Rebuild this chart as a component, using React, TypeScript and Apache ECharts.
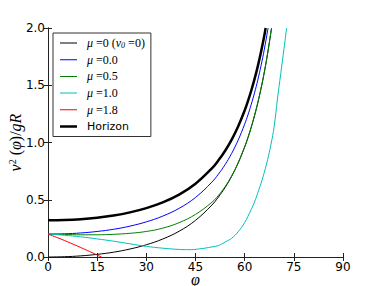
import React, { useEffect, useRef } from "react";
import * as echarts from "echarts";

// ---- data ----
const thinX = [0, 5, 10, 15, 20, 25, 30, 35, 40, 45, 50, 52, 54, 56, 58, 60, 61, 62, 63, 64, 65, 66, 67, 68, 68.2];
const thinY = [0, 0.0024, 0.0099, 0.023, 0.042, 0.0696, 0.107, 0.157, 0.225, 0.32, 0.454, 0.524, 0.606, 0.703, 0.82, 0.96, 1.041, 1.132, 1.233, 1.345, 1.472, 1.614, 1.776, 1.96, 2.0];

const blueX = [0, 5, 10, 15, 20, 25, 30, 35, 40, 45, 50, 52, 54, 56, 58, 60, 61, 62, 63, 64, 65, 66, 67, 67.15];
const blueY = [0.2, 0.2024, 0.21, 0.223, 0.242, 0.2696, 0.307, 0.357, 0.425, 0.52, 0.654, 0.724, 0.806, 0.903, 1.02, 1.16, 1.241, 1.332, 1.433, 1.545, 1.672, 1.814, 1.976, 2.0];

const greenX = [0, 5, 10, 15, 20, 25, 30, 35, 40, 45, 50, 52, 54, 56, 58, 60, 61, 62, 63, 64, 65, 66, 67, 68, 68.2];
const greenY = [0.2, 0.197, 0.194, 0.194, 0.198, 0.207, 0.223, 0.252, 0.3, 0.372, 0.478, 0.538, 0.613, 0.707, 0.823, 0.963, 1.044, 1.135, 1.236, 1.348, 1.475, 1.617, 1.779, 1.963, 2.0];

const cyanX = [0, 5, 10, 15, 20, 25, 30, 35, 40, 43, 46, 48, 50, 52, 54, 56, 58, 60, 61, 62, 63, 64, 65, 66, 67, 68, 69, 70, 71, 72, 72.8];
const cyanY = [0.2, 0.19, 0.176, 0.158, 0.138, 0.115, 0.093, 0.077, 0.066, 0.064, 0.07, 0.078, 0.088, 0.1, 0.13, 0.163, 0.22, 0.3, 0.355, 0.415, 0.48, 0.56, 0.645, 0.74, 0.85, 0.98, 1.14, 1.38, 1.6, 1.82, 2.0];

const redX = [0, 4, 8, 12, 16.3];
const redY = [0.2, 0.156, 0.108, 0.057, 0];

const horizonX = [0, 5, 10, 15, 20, 25, 30, 35, 40, 45, 50, 52, 54, 56, 58, 60, 61, 62, 63, 64, 65, 66, 66.4];
const horizonY = [0.32, 0.3225, 0.33, 0.343, 0.362, 0.3896, 0.427, 0.477, 0.545, 0.64, 0.774, 0.844, 0.926, 1.023, 1.14, 1.28, 1.362, 1.452, 1.553, 1.665, 1.792, 1.934, 2.0];

const xTicks = { min: 0, max: 90, interval: 15 };
const yTicks = { min: 0, max: 2, interval: 0.5 };

const zip = (xs: number[], ys: number[]) => xs.map((x, i) => [x, ys[i]]);

const legendLabels: Record<string, string> = {
  s0: "{i|μ}{n| =0 (}{i|v}{sub|0}{n| =0)}",
  s1: "{i|μ}{n| =0.0}",
  s2: "{i|μ}{n| =0.5}",
  s3: "{i|μ}{n| =1.0}",
  s4: "{i|μ}{n| =1.8}",
  s5: "{h|Horizon}",
};

// legend icons: a line inside a 17x12 box (a hair-thin sliver keeps the box height)
const thinIcon = "path://M0,0L0.01,0L0.01,12L0,12Z M0,5.5L17,5.5L17,6.5L0,6.5Z";
const thickIcon = "path://M0,0L0.01,0L0.01,12L0,12Z M0,4.75L17,4.75L17,7.25L0,7.25Z";

export default function App() {
  const ref = useRef<HTMLDivElement>(null);
  useEffect(() => {
    document.body.style.margin = "0";
    if (!ref.current) return;
    const chart = echarts.init(ref.current, null, { renderer: "svg" });
    const serif = "Liberation Serif";
    const sans = "DejaVu Sans";
    const axisCommon = {
      axisLine: { show: true, lineStyle: { color: "#222", width: 1 } },
      axisTick: { show: true, inside: true, length: 4, lineStyle: { color: "#222", width: 1 } },
      splitLine: { show: false },
    };
    const mk = (name: string, xs: number[], ys: number[], color: string, width: number) => ({
      name,
      type: "line",
      data: zip(xs, ys),
      symbol: "none",
      showSymbol: false,
      smooth: 0.4,
      lineStyle: { color, width },
      itemStyle: { color },
      xAxisIndex: 0,
      yAxisIndex: 0,
    });
    chart.setOption({
      animation: false,
      backgroundColor: "#fff",
      grid: { left: 48, right: 39, top: 28, bottom: 29, containLabel: false, outerBoundsMode: "none" },
      xAxis: [
        {
          type: "value",
          ...xTicks,
          position: "bottom",
          ...axisCommon,
          axisLabel: { color: "#000", fontFamily: sans, fontSize: 12, margin: 4, lineHeight: 12 },
          name: "φ",
          nameLocation: "middle",
          nameGap: 16,
          nameMoveOverlap: false,
          nameTextStyle: { fontFamily: serif, fontStyle: "italic", fontSize: 16, color: "#000", lineHeight: 12, verticalAlign: "top" },
        },
        {
          type: "value",
          ...xTicks,
          position: "top",
          ...axisCommon,
          axisLabel: { show: false },
        },
      ],
      yAxis: [
        {
          type: "value",
          ...yTicks,
          position: "left",
          ...axisCommon,
          axisLabel: {
            color: "#000",
            fontFamily: sans,
            fontSize: 12,
            margin: 3,
            formatter: (v: number) => v.toFixed(1),
          },
          name: "{i|v}{s|2}{n| (}{i|φ}{n|)/}{i|gR}",
          nameLocation: "middle",
          nameGap: 25,
          nameMoveOverlap: false,
          nameRotate: 90,
          nameTextStyle: {
            color: "#000",
            rich: {
              i: { fontFamily: serif, fontStyle: "italic", fontSize: 16, color: "#000", lineHeight: 16 },
              n: { fontFamily: serif, fontSize: 16, color: "#000", lineHeight: 16 },
              s: { fontFamily: serif, fontSize: 10, color: "#000", verticalAlign: "top", lineHeight: 16, padding: [0, 0, 6, 0] },
            },
          },
        },
        {
          type: "value",
          ...yTicks,
          position: "right",
          ...axisCommon,
          axisLabel: { show: false },
        },
      ],
      legend: {
        left: 53,
        top: 33,
        orient: "vertical",
        backgroundColor: "#fff",
        borderColor: "#333",
        borderWidth: 1,
        borderRadius: 0,
        padding: [4, 6, 4, 7],
        itemWidth: 17,
        itemHeight: 12,
        itemGap: 4.7,
        data: [
          { name: "s0", icon: thinIcon },
          { name: "s1", icon: thinIcon },
          { name: "s2", icon: thinIcon },
          { name: "s3", icon: thinIcon },
          { name: "s4", icon: thinIcon },
          { name: "s5", icon: thickIcon },
        ],
        formatter: (name: string) => legendLabels[name],
        textStyle: {
          padding: [0, 0, 0, 5],
          rich: {
            i: { fontFamily: serif, fontStyle: "italic", fontSize: 12, color: "#000", lineHeight: 12 },
            n: { fontFamily: serif, fontSize: 12, color: "#000", lineHeight: 12 },
            sub: { fontFamily: serif, fontStyle: "italic", fontSize: 8, color: "#000", lineHeight: 12, verticalAlign: "bottom" },
            h: { fontFamily: sans, fontSize: 11, color: "#000", lineHeight: 12 },
          },
        },
      },
      series: [
        mk("s0", thinX, thinY, "#000000", 1),
        mk("s1", blueX, blueY, "#0000ff", 1),
        mk("s2", greenX, greenY, "#008000", 1),
        mk("s3", cyanX, cyanY, "#00bfbf", 1),
        mk("s4", redX, redY, "#ff0000", 1),
        mk("s5", horizonX, horizonY, "#000000", 2.5),
      ],
    });
    return () => chart.dispose();
  }, []);
  return <div ref={ref} style={{ width: 382, height: 286 }} />;
}
